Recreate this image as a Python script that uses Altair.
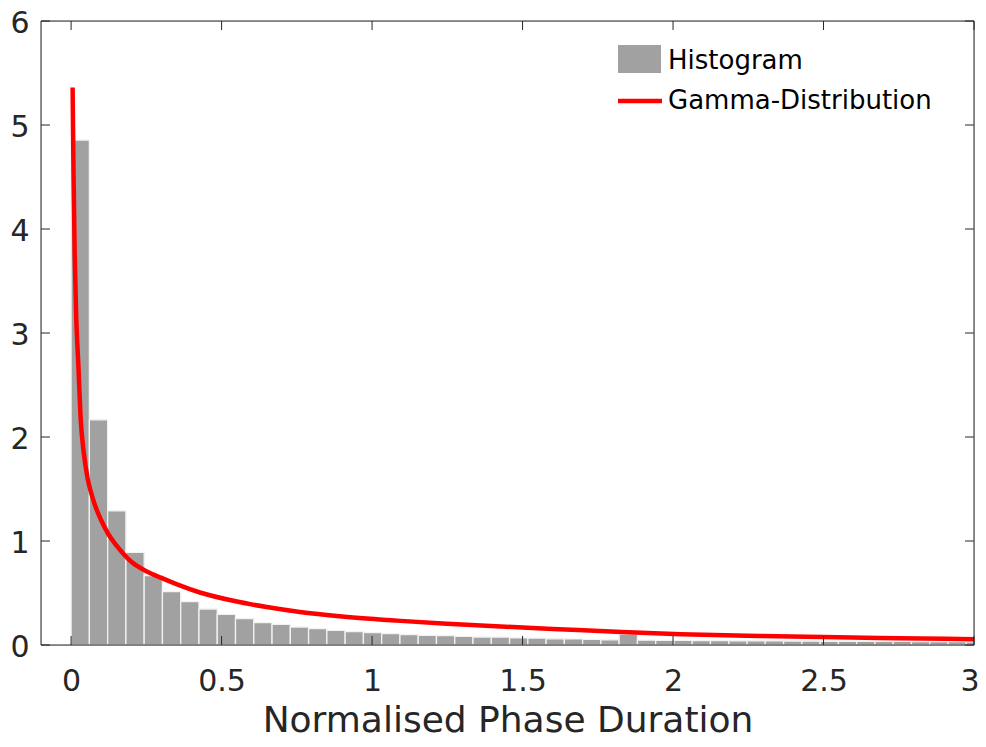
import altair as alt
import pandas as pd

# ---- data ----
bin_width = 0.0607
hist_density = [4.855, 2.165, 1.291, 0.890, 0.667, 0.513, 0.417, 0.346, 0.295, 0.253,
                0.215, 0.198, 0.173, 0.157, 0.141, 0.128, 0.119, 0.109, 0.099, 0.093,
                0.090, 0.083, 0.077, 0.076, 0.068, 0.066, 0.059, 0.058, 0.055, 0.050,
                0.105, 0.046, 0.045, 0.044, 0.043, 0.042, 0.041, 0.040, 0.039, 0.038,
                0.037, 0.036, 0.036, 0.035, 0.034, 0.034, 0.033, 0.032, 0.032, 0.031]

gamma_x = [0.005, 0.008, 0.012, 0.017, 0.024, 0.032, 0.042, 0.055, 0.070, 0.085,
           0.100, 0.125, 0.150, 0.200, 0.250, 0.300, 0.350, 0.428, 0.539, 0.650,
           0.760, 0.900, 1.095, 1.250, 1.427, 1.600, 1.830, 2.026, 2.290, 2.500,
           2.750, 3.000]
gamma_y = [5.36, 4.55, 3.75, 3.15, 2.70, 2.17, 1.85, 1.60, 1.43, 1.30,
           1.20, 1.06, 0.96, 0.80, 0.71, 0.645, 0.585, 0.505, 0.425, 0.365,
           0.318, 0.275, 0.232, 0.205, 0.178, 0.155, 0.124, 0.104, 0.087, 0.076,
           0.065, 0.056]

x_ticks = [0, 0.5, 1, 1.5, 2, 2.5, 3]
y_ticks = [0, 1, 2, 3, 4, 5, 6]
legend_labels = ["Histogram", "Gamma-Distribution"]

x_title = "Normalised Phase Duration"

# ---- tables ----
hist_df = pd.DataFrame({
    "x0": [i * bin_width for i in range(len(hist_density))],
    "x1": [(i + 1) * bin_width for i in range(len(hist_density))],
    "y": hist_density,
})
line_df = pd.DataFrame({"x0": gamma_x, "y": gamma_y})
xt_df = pd.DataFrame({"x0": x_ticks})
yt_df = pd.DataFrame({"y": y_ticks})
one_df = pd.DataFrame({"a": [0]})

W, H = 933, 624
FONT = "DejaVu Sans"
DARK = "#262626"
TL = 9

xscale = alt.Scale(domain=[-0.1, 3], nice=False, zero=False)
yscale = alt.Scale(domain=[0, 6], nice=False)
xaxis = alt.Axis(values=x_ticks, format="~g", ticks=False, domain=False, grid=False,
                 labelFont=FONT, labelFontSize=30, labelColor=DARK, labelPadding=21,
                 title=x_title, titleFont=FONT, titleFontSize=36, titleFontWeight="normal",
                 titleColor=DARK, titlePadding=7, labelFlush=True, labelFlushOffset=5)
yaxis = alt.Axis(values=y_ticks, format="d", ticks=False, domain=False, grid=False,
                 labelFont=FONT, labelFontSize=30, labelColor=DARK, labelPadding=12,
                 labelOffset=2, title=None, labelFlush=False)


def X(f):
    return alt.X(f, type="quantitative", scale=xscale, axis=xaxis)


def Y(f):
    return alt.Y(f, type="quantitative", scale=yscale, axis=yaxis)


bars = alt.Chart(hist_df).mark_rect(
    fill="#a1a1a1", stroke="#f2f2f2", strokeWidth=1.3, clip=True
).encode(x=X("x0"), x2="x1", y=Y("y"), y2=alt.datum(0))

line = alt.Chart(line_df).mark_line(
    color="#ff0000", strokeWidth=4.5, interpolate="monotone", clip=True
).encode(x=X("x0"), y=Y("y"))

tick_bottom = alt.Chart(xt_df).mark_rule(color=DARK, strokeWidth=1).encode(
    x=X("x0"), y=alt.value(H), y2=alt.value(H - TL))
tick_top = alt.Chart(xt_df).mark_rule(color=DARK, strokeWidth=1).encode(
    x=X("x0"), y=alt.value(0), y2=alt.value(TL))
tick_left = alt.Chart(yt_df).mark_rule(color=DARK, strokeWidth=1).encode(
    y=Y("y"), x=alt.value(0), x2=alt.value(TL))
tick_right = alt.Chart(yt_df).mark_rule(color=DARK, strokeWidth=1).encode(
    y=Y("y"), x=alt.value(W), x2=alt.value(W - TL))

frame = alt.Chart(one_df).mark_rect(fillOpacity=0, stroke=DARK, strokeWidth=1).encode(
    x=alt.value(0), x2=alt.value(W), y=alt.value(0), y2=alt.value(H))

# legend (manual, top-right inside the plot)
leg_box = alt.Chart(one_df).mark_rect(fill="#a1a1a1").encode(
    x=alt.value(577), x2=alt.value(620), y=alt.value(24), y2=alt.value(52))
leg_line = alt.Chart(one_df).mark_rule(color="#ff0000", strokeWidth=4.5).encode(
    x=alt.value(577), x2=alt.value(621), y=alt.value(80))
leg_text1 = alt.Chart(one_df).mark_text(
    align="left", baseline="middle", font=FONT, fontSize=26, color="#000000"
).encode(x=alt.value(627), y=alt.value(40), text=alt.value(legend_labels[0]))
leg_text2 = alt.Chart(one_df).mark_text(
    align="left", baseline="middle", font=FONT, fontSize=26, color="#000000"
).encode(x=alt.value(627), y=alt.value(80), text=alt.value(legend_labels[1]))

chart = alt.layer(
    bars, line, tick_bottom, tick_top, tick_left, tick_right, frame,
    leg_box, leg_line, leg_text1, leg_text2
).properties(
    width=W, height=H,
    autosize=alt.AutoSizeParams(type="none"),
    padding={"left": 33, "top": 13, "right": 4, "bottom": 94},
).configure_view(stroke=None).configure(background="white")

chart.save("out.html", embed_options={"renderer": "svg", "actions": False})
